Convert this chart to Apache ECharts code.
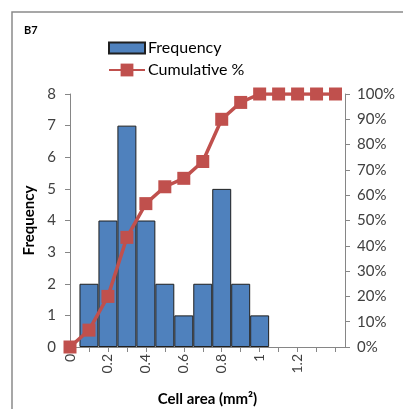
<!DOCTYPE html>
<html>
<head>
<meta charset="utf-8">
<script src="https://cdn.jsdelivr.net/npm/echarts@6/dist/echarts.min.js"></script>
<style>
  html, body { margin: 0; padding: 0; background: #fff; }
  #main { width: 403px; height: 409px; }
</style>
</head>
<body>
<div id="main"></div>
<script>
// bin centres (mm2), histogram counts and cumulative %
var binCenters = [0, 0.1, 0.2, 0.3, 0.4, 0.5, 0.6, 0.7, 0.8, 0.9, 1.0, 1.1, 1.2, 1.3, 1.4];
var frequency = [0, 2, 4, 7, 4, 2, 1, 2, 5, 2, 1, 0, 0, 0, 0];
var cumulative = [0, 6.67, 20, 43.33, 56.67, 63.33, 66.67, 73.33, 90, 96.67, 100, 100, 100, 100, 100];
var freqTicks = [0, 8, 1];   // min, max, interval
var pctTicks = [0, 100, 10];

var font = 'Lato, "Liberation Sans", sans-serif';
var textColor = '#404040';
var axisGray = '#868686';

// bars only where there is a count
var barData = [], lineData = [];
for (var i = 0; i < binCenters.length; i++) {
  if (frequency[i] > 0) barData.push([binCenters[i], frequency[i]]);
  lineData.push([binCenters[i], cumulative[i]]);
}

var chart = echarts.init(document.getElementById('main'));
chart.setOption({
  animation: false,
  textStyle: { fontFamily: font },
  graphic: [
    { type: 'rect', shape: { x: 12, y: 12, width: 420, height: 420 },
      style: { fill: 'none', stroke: '#8a8a8a', lineWidth: 1.5 } },
    { type: 'text', left: 24, top: 25,
      style: { text: 'B7', font: 'bold 11px ' + font, fill: '#000' } }
  ],
  grid: { left: 70, right: 58, top: 94, bottom: 62, outerBoundsMode: 'none' },
  legend: [{
    left: 103, top: 35, itemWidth: 36, itemHeight: 11, icon: 'rect',
    textStyle: { fontSize: 16, color: '#000', padding: [0, 0, 0, -2] },
    data: ['Frequency']
  }, {
    left: 103, top: 57, itemWidth: 36, itemHeight: 16,
    textStyle: { fontSize: 16, color: '#000', padding: [0, 0, 0, -2] },
    data: ['Cumulative %']
  }],
  xAxis: {
    type: 'value', min: 0, max: 1.45, interval: 0.1,
    name: 'Cell area (mm²)', nameLocation: 'middle', nameGap: 45,
    nameTextStyle: { fontWeight: 'bold', fontSize: 15, color: '#000' },
    splitLine: { show: false },
    axisLine: { lineStyle: { color: axisGray } },
    axisTick: { length: 5, lineStyle: { color: axisGray } },
    axisLabel: {
      rotate: 90, fontSize: 14, color: textColor, margin: 7, showMaxLabel: false,
      formatter: function (v) {
        var k = Math.round(v * 10);
        return (k % 2 === 0 && k <= 12) ? String(k / 10) : '';
      }
    }
  },
  yAxis: [{
    type: 'value', min: freqTicks[0], max: freqTicks[1], interval: freqTicks[2],
    name: 'Frequency', nameLocation: 'middle', nameGap: 29,
    nameTextStyle: { fontWeight: 'bold', fontSize: 15, color: '#000' },
    splitLine: { show: false },
    axisLine: { show: true, lineStyle: { color: axisGray } },
    axisTick: { show: true, length: 5, lineStyle: { color: axisGray } },
    axisLabel: { fontSize: 15, color: textColor, margin: 14 }
  }, {
    type: 'value', min: pctTicks[0], max: pctTicks[1], interval: pctTicks[2],
    position: 'right',
    splitLine: { show: false },
    axisLine: { show: true, lineStyle: { color: axisGray } },
    axisTick: { show: true, length: 5, lineStyle: { color: axisGray } },
    axisLabel: { fontSize: 15, color: textColor, margin: 12, formatter: '{value}%' }
  }],
  series: [{
    name: 'Frequency', type: 'bar', data: barData, barWidth: '100%',
    itemStyle: { color: '#4F81BD', borderColor: '#1f1f1f', borderWidth: 1 }
  }, {
    name: 'Cumulative %', type: 'line', yAxisIndex: 1, data: lineData,
    symbol: 'rect', symbolSize: 13,
    lineStyle: { color: '#C0504D', width: 3.5 },
    itemStyle: { color: '#C0504D' }
  }]
});
</script>
</body>
</html>
